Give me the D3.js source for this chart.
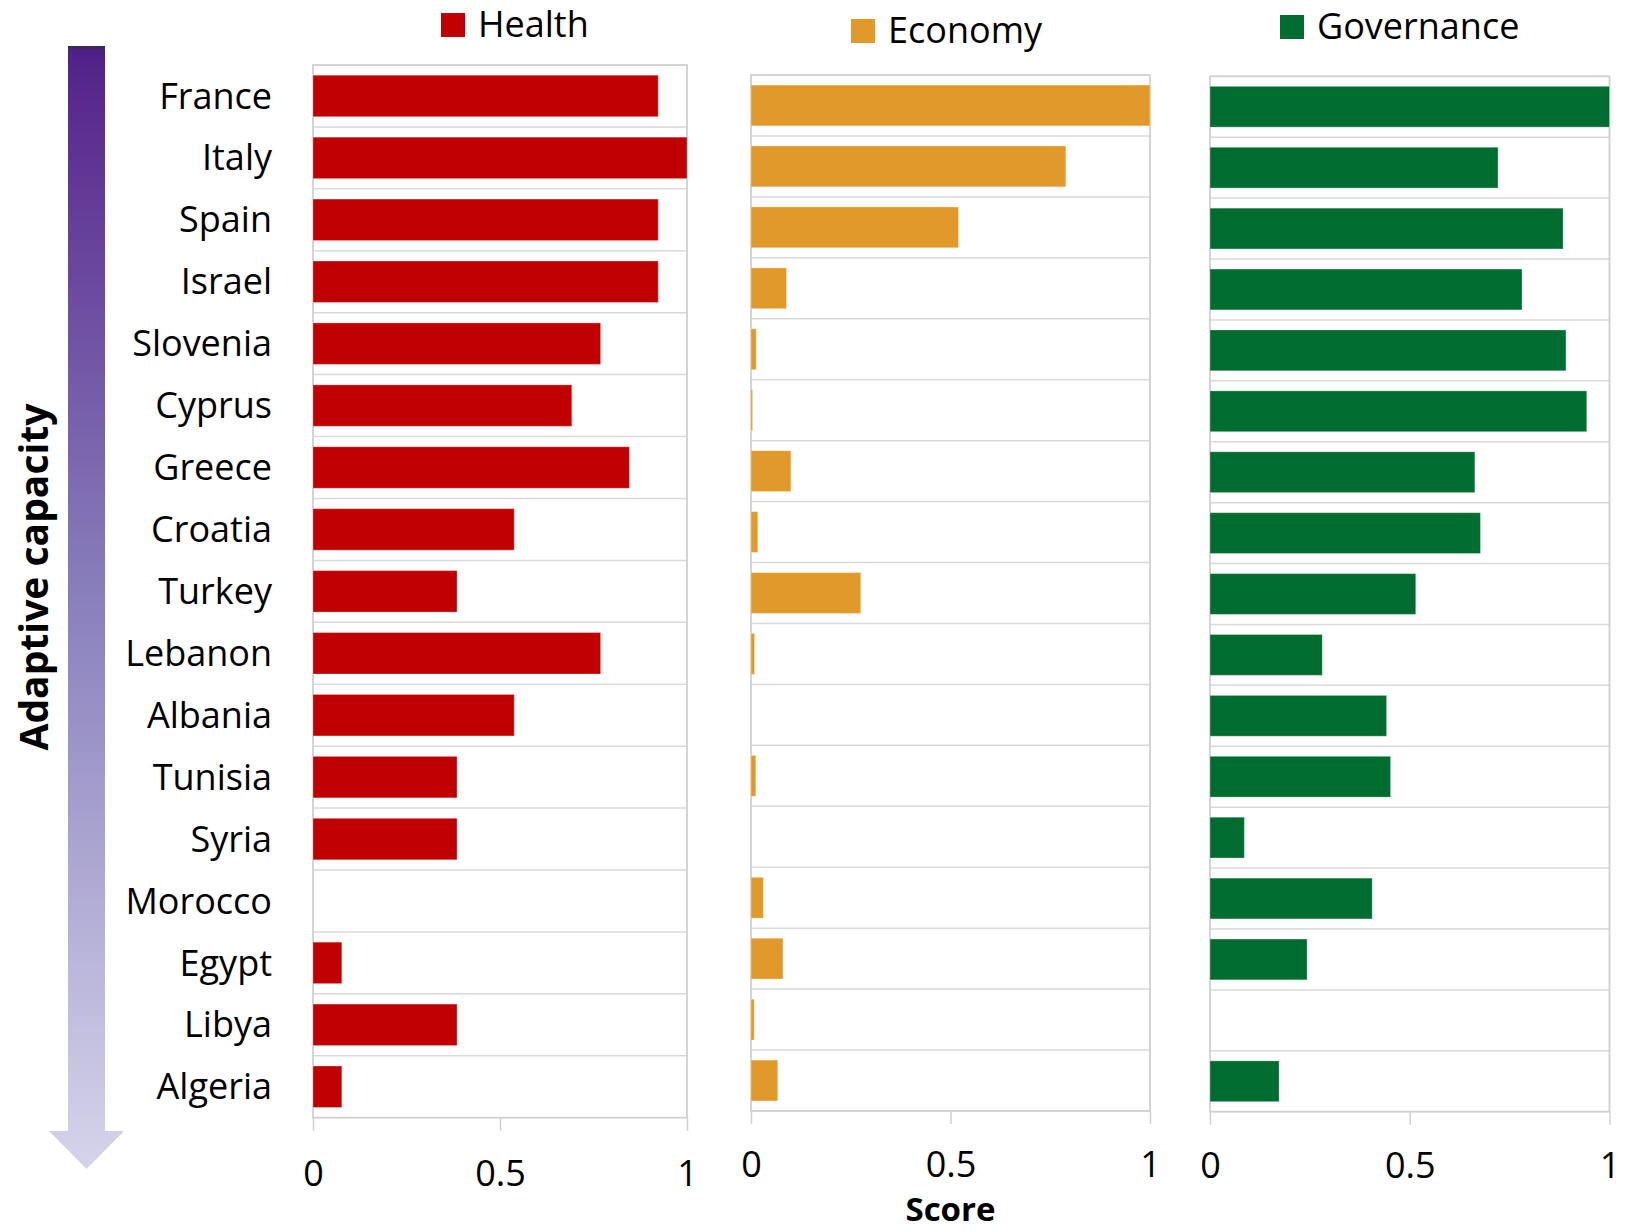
<!DOCTYPE html>
<html>
<head>
<meta charset="utf-8">
<script src="https://cdn.jsdelivr.net/npm/d3@7"></script>
<style>
  body { margin: 0; background: #fff; }
  svg { display: block; font-family: "Open Sans", "Noto Sans", sans-serif; }
  .axis path, .axis line { stroke: #d0d0d0; stroke-width: 1.5; }
  .axis text { fill: #000; }
</style>
</head>
<body>
<svg id="chart" width="1630" height="1231"></svg>
<script>
const countries = ["France", "Italy", "Spain", "Israel", "Slovenia", "Cyprus", "Greece", "Croatia",
  "Turkey", "Lebanon", "Albania", "Tunisia", "Syria", "Morocco", "Egypt", "Libya", "Algeria"];

const health = [0.923, 1, 0.923, 0.923, 0.769, 0.692, 0.846, 0.538,
  0.385, 0.769, 0.538, 0.385, 0.385, 0, 0.077, 0.385, 0.077];

const economy = [1, 0.789, 0.52, 0.089, 0.013, 0.004, 0.1, 0.017,
  0.275, 0.009, 0, 0.012, 0, 0.031, 0.08, 0.008, 0.067];

const governance = [1, 0.721, 0.884, 0.781, 0.891, 0.943, 0.663, 0.677,
  0.515, 0.281, 0.442, 0.452, 0.086, 0.406, 0.243, 0, 0.173];

const tickValues = [0, 0.5, 1];
const tickLabels = ["0", "0.5", "1"];

const svg = d3.select("#chart");

// panel boxes, each one is its own little chart
const panels = [
  {name: "Health", values: health, color: "#c00000", x: [313, 687], y: [65, 1117.7], tickY: 68,
    legend: {x: 441, y: 13, base: 37}},
  {name: "Economy", values: economy, color: "#e1992a", x: [751, 1150], y: [75, 1111], tickY: 66,
    legend: {x: 851, y: 19, base: 43}},
  {name: "Governance", values: governance, color: "#016c30", x: [1210, 1609.5], y: [76.3, 1111.7], tickY: 66,
    legend: {x: 1280, y: 15, base: 39}}
];

panels.forEach(function(p, pi) {
  const xScale = d3.scaleLinear().domain([0, 1]).range(p.x);
  const yScale = d3.scaleBand()
    .domain(countries)
    .range(p.y)
    .paddingInner(0.33)
    .paddingOuter(0.165);
  const half = yScale.step() * 0.165;

  const g = svg.append("g").attr("class", "panel " + p.name.toLowerCase());

  // row separators
  g.selectAll("line.sep")
    .data(countries.slice(1))
    .enter().append("line")
      .attr("class", "sep")
      .attr("x1", p.x[0]).attr("x2", p.x[1])
      .attr("y1", d => yScale(d) - half)
      .attr("y2", d => yScale(d) - half)
      .attr("stroke", "#d9d9d9")
      .attr("stroke-width", 1.5);

  // box
  g.append("rect")
    .attr("x", p.x[0]).attr("y", p.y[0])
    .attr("width", p.x[1] - p.x[0]).attr("height", p.y[1] - p.y[0])
    .attr("fill", "none")
    .attr("stroke", "#d0d0d0")
    .attr("stroke-width", 1.8);

  g.selectAll("rect.bar")
    .data(p.values)
    .enter().append("rect")
      .attr("class", "bar")
      .attr("x", xScale(0))
      .attr("y", (d, i) => yScale(countries[i]))
      .attr("width", d => xScale(d) - xScale(0))
      .attr("height", yScale.bandwidth())
      .attr("fill", p.color)
      .attr("stroke", d => d > 0 ? "rgba(255,255,255,0.3)" : "none")
      .attr("stroke-width", 1);

  const xAxis = g.append("g")
    .attr("class", "axis x")
    .attr("transform", `translate(0, ${p.y[1]})`)
    .call(d3.axisBottom(xScale)
      .tickValues(tickValues)
      .tickFormat((d, i) => tickLabels[i])
      .tickSizeInner(13)
      .tickSizeOuter(0));
  xAxis.select(".domain").remove();
  xAxis.selectAll("text")
    .attr("y", p.tickY)
    .attr("dy", 0)
    .style("font-size", "36px")
    .style("font-family", '"Open Sans", sans-serif');

  if(pi === 0) {
    const yAxis = g.append("g")
      .attr("class", "axis y")
      .attr("transform", `translate(${p.x[0]}, 0)`)
      .call(d3.axisLeft(yScale).tickSize(0).tickPadding(41));
    yAxis.select(".domain").remove();
    yAxis.selectAll("text")
      .attr("dy", "0.35em")
      .style("font-size", "36px")
      .style("font-family", '"Open Sans", sans-serif');
  }

  // legend
  const lg = svg.append("g").attr("class", "legend");
  lg.append("rect")
    .attr("x", p.legend.x).attr("y", p.legend.y)
    .attr("width", 24).attr("height", 24)
    .attr("fill", p.color);
  lg.append("text")
    .attr("x", p.legend.x + 37)
    .attr("y", p.legend.base)
    .style("font-size", "36px")
    .text(p.name);
});

svg.append("text")
  .attr("x", 950.5)
  .attr("y", 1221)
  .attr("text-anchor", "middle")
  .style("font-size", "33px")
  .style("font-weight", "bold")
  .text("Score");

// adaptive capacity arrow
const defs = svg.append("defs");
const grad = defs.append("linearGradient")
  .attr("id", "arrowGrad")
  .attr("x1", 0).attr("y1", 0).attr("x2", 0).attr("y2", 1);
grad.append("stop").attr("offset", "0").attr("stop-color", "#4d2087");
grad.append("stop").attr("offset", "0.05").attr("stop-color", "#5a2a8e");
grad.append("stop").attr("offset", "0.5").attr("stop-color", "#8a81bd");
grad.append("stop").attr("offset", "1").attr("stop-color", "#d6d4eb");

const arrow = {x0: 68, x1: 105, top: 46, headTop: 1131, headL: 49, headR: 124, tip: 1169};
svg.append("path")
  .attr("d", `M${arrow.x0},${arrow.top} L${arrow.x1},${arrow.top} L${arrow.x1},${arrow.headTop}
    L${arrow.headR},${arrow.headTop} L${(arrow.headL + arrow.headR) / 2},${arrow.tip}
    L${arrow.headL},${arrow.headTop} L${arrow.x0},${arrow.headTop} Z`)
  .attr("fill", "url(#arrowGrad)");
svg.append("rect")
  .attr("x", arrow.x0).attr("y", arrow.top)
  .attr("width", arrow.x1 - arrow.x0).attr("height", 3)
  .attr("fill", "#3a2a5c");

svg.append("text")
  .attr("transform", "translate(48, 577) rotate(-90)")
  .attr("text-anchor", "middle")
  .style("font-size", "39px")
  .style("font-weight", "bold")
  .text("Adaptive capacity");
</script>
</body>
</html>
